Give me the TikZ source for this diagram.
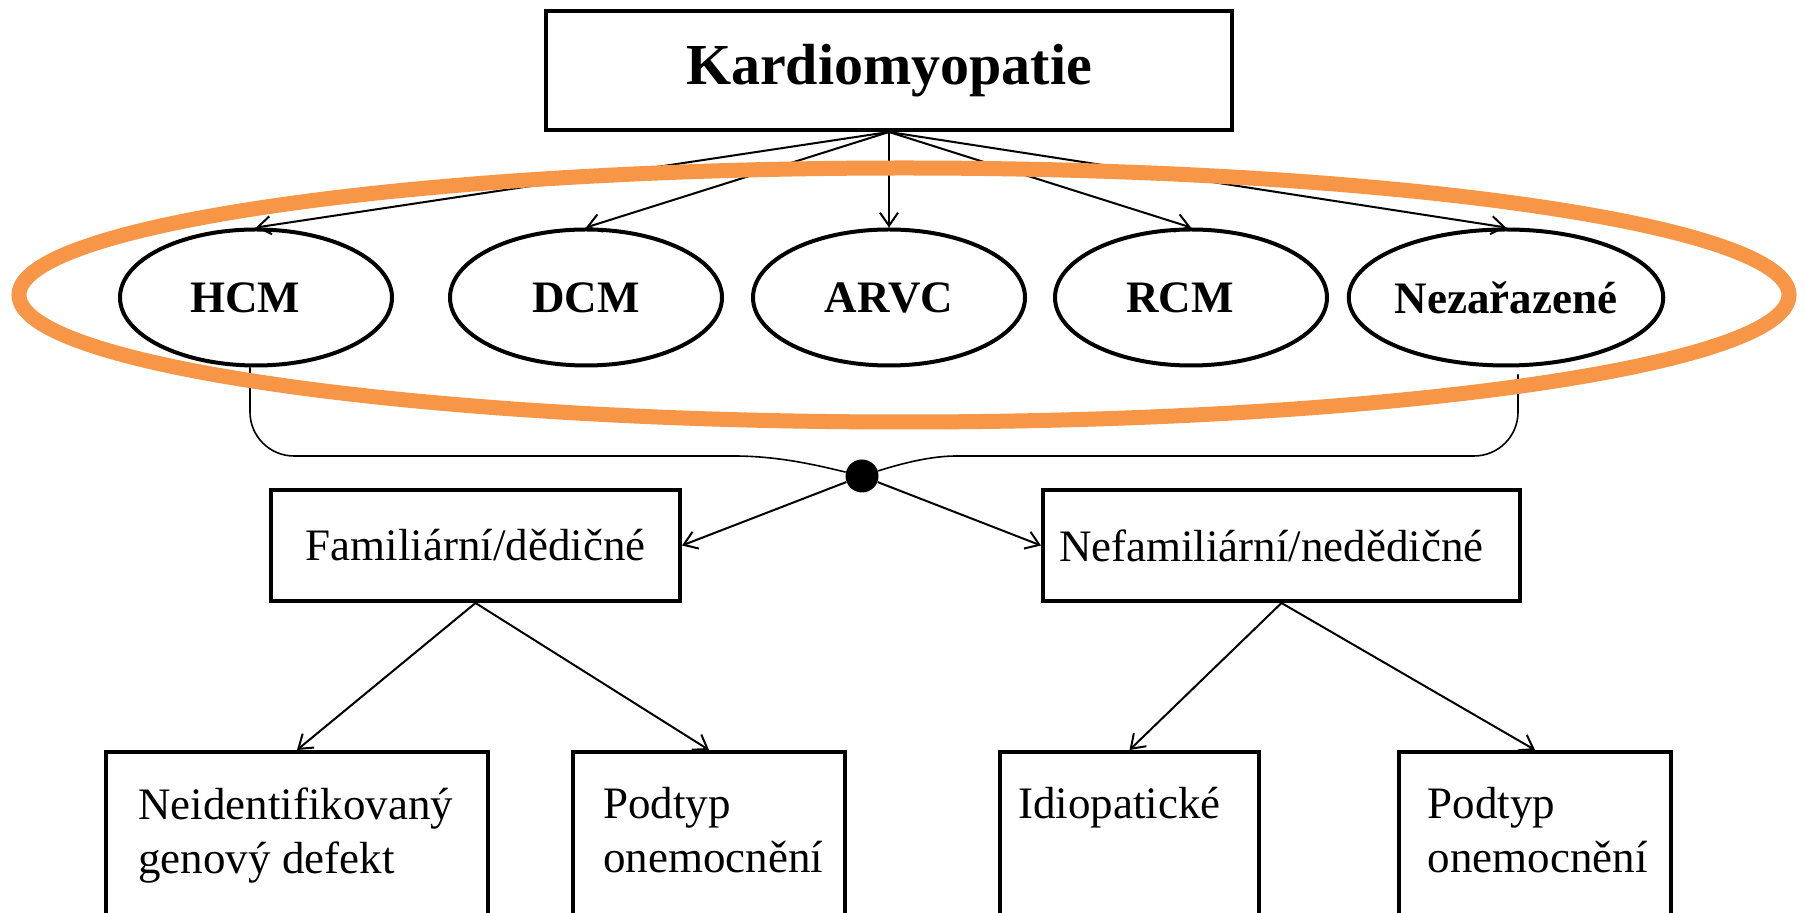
\documentclass[tikz,border=0pt]{standalone}
\usepackage{fontspec}
\setmainfont{Liberation Serif}
\usetikzlibrary{shapes.geometric, arrows.meta}
\definecolor{accorange}{HTML}{F79646}
\newcommand{\bodyfont}{\fontsize{22.5}{27}\selectfont}
\begin{document}
\begin{tikzpicture}[x=0.5pt, y=-0.5pt,
  box/.style={draw, rectangle, line width=2pt, inner sep=0pt},
  oval/.style={draw, ellipse, line width=2pt, minimum width=136pt, minimum height=68pt, inner sep=0pt, font=\bfseries\fontsize{22.5}{27}\selectfont},
  conn/.style={line width=1pt, -{Straight Barb[length=6.5pt, width=9pt]}},
  bracel/.style={line width=0.8pt, rounded corners=22pt},
  blabel/.style={anchor=north west, inner sep=0pt, align=left, font=\bodyfont, yshift=-18.6pt},
  lowbox/.style={box, anchor=north, minimum height=104pt}
]
\path[use as bounding box, fill=white] (0,0) rectangle (1805,913);
\clip (0,0) rectangle (1805,913);

\node[box, minimum width=343pt, minimum height=59.5pt, font=\bfseries\fontsize{29}{34}\selectfont] (top) at (889,70.5) {Kardiomyopatie};

\node[oval] (hcm) at (256,297.5) {HCM\rule{11pt}{0pt}};
\node[oval] (dcm) at (586,297.5) {DCM};
\node[oval] (arvc) at (889,297.5) {ARVC};
\node[oval] (rcm) at (1191,297.5) {RCM\rule{11pt}{0pt}};
\node[oval] (nez) at (1506,297.5) {Nezařazené};

\node[circle, fill=black, inner sep=0pt, minimum size=16.5pt] (dot) at (862,476) {};

\node[box, minimum width=204.5pt, minimum height=55.5pt, font=\bodyfont] (fam) at (475.5,545.5) {Familiární/dědičné};
\node[box, minimum width=238.5pt, minimum height=55.5pt, text width=222.5pt, inner xsep=8pt, align=left, font=\bodyfont] (nefam) at (1281.5,545.5) {Nefamiliární/nedědičné};

\node[lowbox, minimum width=191pt, label={[blabel, xshift=17pt]north west:{Neidentifikovaný\\genový defekt}}] (b1) at (297,750) {};
\node[lowbox, minimum width=136pt, label={[blabel, xshift=16pt]north west:{Podtyp\\onemocnění}}] (b2) at (709,750) {};
\node[lowbox, minimum width=129.5pt, label={[blabel, xshift=10pt]north west:{Idiopatické}}] (b3) at (1129.5,750) {};
\node[lowbox, minimum width=135.75pt, label={[blabel, xshift=15pt]north west:{Podtyp\\onemocnění}}] (b4) at (1535,750) {};

\foreach \n in {hcm,dcm,arvc,rcm,nez} \draw[conn] (top.south) -- (\n.north);

\draw[bracel] ([xshift=-3pt]hcm.south) |- (690,456) .. controls (780,456) and (820,466) .. (dot);
\draw[bracel] ([xshift=6pt,yshift=-3.5pt]nez.south) |- (1000,456) .. controls (930,456) and (900,464) .. (dot);

\draw[conn] (dot) -- (fam.east);
\draw[conn] (dot) -- (nefam.west);
\draw[conn] (fam.south) -- (b1.north);
\draw[conn] (fam.south) -- (b2.north);
\draw[conn] (nefam.south) -- (b3.north);
\draw[conn] (nefam.south) -- (b4.north);

\draw[accorange, line width=7.5pt] (904,295) ellipse [x radius=442.5pt, y radius=63.5pt];
\end{tikzpicture}
\end{document}
